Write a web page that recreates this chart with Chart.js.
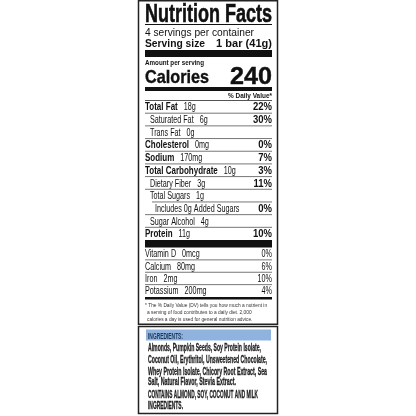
<!DOCTYPE html>
<html>
<head>
<meta charset="utf-8">
<script src="https://cdn.jsdelivr.net/npm/chart.js@4.4.1/dist/chart.umd.min.js"></script>
<style>
html, body { margin: 0; padding: 0; background: #fff; }
#wrap { position: relative; width: 416px; height: 416px; }
#wrap canvas { position: absolute; left: 0; top: 0; }
</style>
</head>
<body>
<div id="wrap">
<canvas id="label" width="416" height="416"></canvas>
<canvas id="minerals" width="416" height="416"></canvas>
</div>
<script>
// label data
var servings = '4 servings per container';
var servingSize = '1 bar (41g)';
var calories = 240;

var nutrientNames = ['Total Fat', 'Saturated Fat', 'Trans Fat', 'Cholesterol', 'Sodium',
    'Total Carbohydrate', 'Dietary Fiber', 'Total Sugars', 'Includes 0g Added Sugars',
    'Sugar Alcohol', 'Protein'];
var nutrientAmounts = ['18g', '6g', '0g', '0mg', '170mg', '10g', '3g', '1g', '', '4g', '11g'];
var nutrientDV = [22, 30, null, 0, 7, 3, 11, null, 0, null, 10];

var mineralNames = ['Vitamin D', 'Calcium', 'Iron', 'Potassium'];
var mineralAmounts = ['0mcg', '80mg', '2mg', '200mg'];
var mineralDV = [0, 6, 10, 4];

var footnote = [
    '* The % Daily Value (DV) tells you how much a nutrient in',
    'a serving of food contributes to a daily diet. 2,000',
    'calories a day is used for general nutrition advice.'
];
var ingredients = [
    'Almonds, Pumpkin Seeds, Soy Protein Isolate,',
    'Coconut Oil, Erythritol, Unsweetened Chocolate,',
    'Whey Protein Isolate, Chicory Root Extract, Sea',
    'Salt, Natural Flavor, Stevia Extract.'
];
var allergens = ['CONTAINS ALMOND, SOY, COCONUT AND MILK', 'INGREDIENTS.'];

// styling
var INK = '#111';
var BOLD_ROWS = ['Total Fat', 'Cholesterol', 'Sodium', 'Total Carbohydrate', 'Protein'];
var INDENT = { 'Saturated Fat': 1, 'Trans Fat': 1, 'Dietary Fiber': 1, 'Total Sugars': 1,
    'Sugar Alcohol': 1, 'Includes 0g Added Sugars': 2 };
var LEFT = 145, RIGHT = 272;

function text(ctx, s, x, y, o) {
    ctx.save();
    ctx.font = (o.weight || 'normal') + ' ' + o.size + 'px "Liberation Sans", Arial, sans-serif';
    ctx.fillStyle = o.color || INK;
    var w = ctx.measureText(s).width;
    var sx = o.fit ? o.fit / w : (o.sx || 1);
    ctx.translate(x, y);
    ctx.scale(sx, 1);
    ctx.textAlign = o.align || 'left';
    ctx.textBaseline = 'alphabetic';
    ctx.fillText(s, 0, 0);
    if (o.stroke) {
        ctx.lineWidth = o.stroke;
        ctx.strokeStyle = ctx.fillStyle;
        ctx.strokeText(s, 0, 0);
    }
    ctx.restore();
    return w * sx;
}

function rule(ctx, x1, x2, y, h, color) {
    ctx.fillStyle = color || INK;
    ctx.fillRect(x1, y, x2 - x1, h);
}

function drawRows(chart, names, amounts, dvs, boldPct) {
    var ctx = chart.ctx;
    var ys = chart.scales.y;
    var step = ys.getPixelForValue(1) - ys.getPixelForValue(0);
    names.forEach(function (name, i) {
        var cy = ys.getPixelForValue(i);
        var indent = INDENT[name] || 0;
        var bold = BOLD_ROWS.indexOf(name) >= 0;
        if (i > 0) {
            var lx = indent === 2 ? LEFT + 7 : LEFT;
            rule(ctx, lx, RIGHT, cy - step / 2 - 0.5, 1, '#777');
        }
        var base = cy + 3.6;
        var nx = LEFT + indent * 5;
        var nw = text(ctx, name, nx, base, { size: 10, weight: bold ? 'bold' : 'normal', sx: bold ? 0.8 : 0.72 });
        if (amounts[i]) {
            text(ctx, amounts[i], nx + nw + 6, base, { size: 10, sx: 0.72 });
        }
        if (dvs[i] !== null) {
            text(ctx, dvs[i] + '%', RIGHT, base, { size: 10, weight: boldPct ? 'bold' : 'normal',
                sx: boldPct ? 0.95 : 0.72, align: 'right' });
        }
    });
}

var labelPlugin = {
    id: 'label',
    afterDraw: function (chart) {
        var ctx = chart.ctx;
        var top = chart.chartArea.top, bottom = chart.chartArea.bottom;

        // outer boxes
        ctx.save();
        ctx.strokeStyle = '#222';
        ctx.lineWidth = 1.5;
        ctx.strokeRect(138.5, 0.75, 139, 323.5);
        ctx.strokeRect(138.5, 326.5, 139, 87);
        ctx.restore();

        // header
        text(ctx, 'Nutrition Facts', LEFT, 22, { size: 25, weight: 'bold', fit: 127, stroke: 0.6 });
        rule(ctx, LEFT, RIGHT, 24, 1);
        text(ctx, servings, LEFT, 35.5, { size: 11, fit: 109 });
        text(ctx, 'Serving size', LEFT, 46.5, { size: 10.5, weight: 'bold', fit: 60 });
        text(ctx, servingSize, RIGHT, 46.5, { size: 10.5, weight: 'bold', fit: 56, align: 'right' });
        rule(ctx, LEFT, RIGHT, 50, 7);

        text(ctx, 'Amount per serving', LEFT, 65, { size: 7, weight: 'bold', fit: 59 });
        text(ctx, 'Calories', LEFT, 83, { size: 19, weight: 'bold', fit: 64, stroke: 0.4 });
        text(ctx, String(calories), RIGHT, 83.5, { size: 23.5, weight: 'bold', fit: 42, align: 'right', stroke: 0.4 });
        rule(ctx, LEFT, RIGHT, 87, 4);
        text(ctx, '% Daily Value*', RIGHT, 97.5, { size: 7, weight: 'bold', fit: 44, align: 'right' });
        rule(ctx, LEFT, RIGHT, top - 0.5, 1, '#555');

        drawRows(chart, nutrientNames, nutrientAmounts, nutrientDV, true);

        // bars around the vitamins block
        rule(ctx, LEFT, RIGHT, bottom, 7.5);
        rule(ctx, LEFT, RIGHT, 297, 2.5);

        // footnote
        var fy = [306.5, 313.5, 320.5];
        footnote.forEach(function (line, i) {
            text(ctx, line, i === 0 ? LEFT : LEFT + 2, fy[i], { size: 6, color: '#333', sx: 0.8 });
        });

        // ingredients
        ctx.fillStyle = '#8fb3de';
        ctx.fillRect(146, 329.5, 125, 11);
        text(ctx, 'INGREDIENTS:', 148, 338.5, { size: 9, weight: 'bold', color: '#1d3557', fit: 35 });
        var iy = [351, 363, 374.5, 385];
        var iw = [113, 119, 119, 88];
        ingredients.forEach(function (line, i) {
            text(ctx, line, 148, iy[i], { size: 10.5, weight: 'bold', color: '#222', fit: iw[i], stroke: 0.3 });
        });
        var ay = [398, 409];
        var aw = [110, 35];
        allergens.forEach(function (line, i) {
            text(ctx, line, 148, ay[i], { size: 10.5, weight: 'bold', color: '#222', fit: aw[i], stroke: 0.3 });
        });
    }
};

var mineralPlugin = {
    id: 'minerals',
    afterDraw: function (chart) {
        drawRows(chart, mineralNames, mineralAmounts, mineralDV, false);
    }
};

function rowChart(id, labels, values, padding, plugin) {
    var ctx = document.getElementById(id).getContext('2d');
    return new Chart(ctx, {
        type: 'bar',
        data: {
            labels: labels,
            datasets: [{
                data: values,
                backgroundColor: 'rgba(0,0,0,0)'
            }]
        },
        options: {
            indexAxis: 'y',
            responsive: false,
            animation: false,
            events: [],
            layout: { padding: padding },
            plugins: { legend: { display: false }, tooltip: { enabled: false } },
            scales: {
                x: { display: false, min: 0, max: 100 },
                y: { display: false }
            }
        },
        plugins: [plugin]
    });
}

rowChart('label', nutrientNames, nutrientDV,
    { top: 100.5, bottom: 176, left: LEFT, right: 416 - RIGHT }, labelPlugin);
rowChart('minerals', mineralNames, mineralDV,
    { top: 247.5, bottom: 119, left: LEFT, right: 416 - RIGHT }, mineralPlugin);
</script>
</body>
</html>
